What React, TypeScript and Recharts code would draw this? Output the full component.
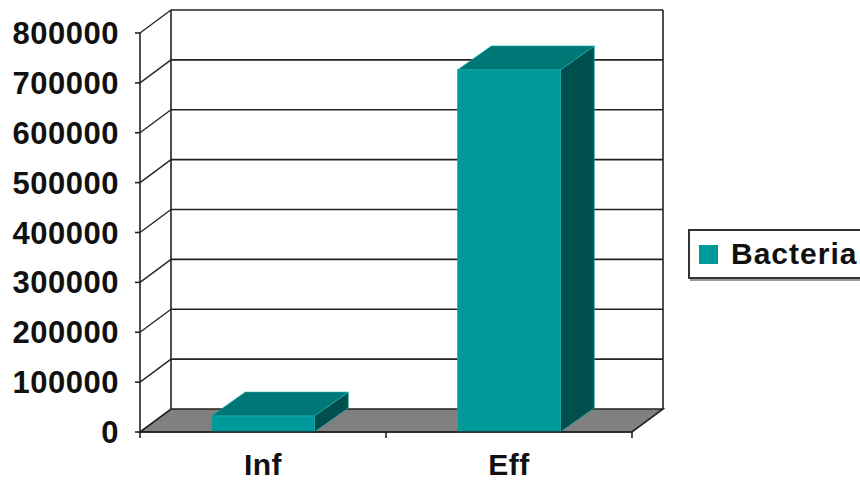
import { BarChart, Bar, XAxis, YAxis, CartesianGrid } from "recharts"

const categories = ["Inf", "Eff"]
const bacteria = [32000, 726000]
const yTicks = [0, 100000, 200000, 300000, 400000, 500000, 600000, 700000, 800000]
const seriesName = "Bacteria"

const data = categories.map((name, i) => ({ name, [seriesName]: bacteria[i] }))

const FONT = "'Liberation Sans', Arial, sans-serif"
const FRONT = "#009999"
const TOP = "#007777"
const SIDE = "#004f4f"
const FLOOR = "#808080"
const LINE = "#222"

// depth offsets for the back wall and for the bars
const WALL_DX = 31
const WALL_DY = -23
const BAR_DX = 34
const BAR_DY = -24

const yLabelStyle = { fontFamily: FONT, fontWeight: "bold", fontSize: 31, letterSpacing: 0.5, fill: "#111" }
const xLabelStyle = { fontFamily: FONT, fontWeight: "bold", fontSize: 30, letterSpacing: 0.5, fill: "#111" }

// each horizontal grid line is drawn on the back wall, with a diagonal
// on the side wall; the zero line also draws the floor and wall edges
const wallLine = (props: any) => {
  const { x1, x2, y1, y, height, index } = props
  const bottom = y + height
  const isFloor = Math.abs(y1 - bottom) < 0.5
  if (isFloor) {
    const step = (x2 - x1) / categories.length
    const ticks = Array.from({ length: categories.length + 1 }, (_, i) => x1 + step * i)
    return (
      <g key={`wall-${index}`}>
        <line x1={x1 + WALL_DX} y1={y + WALL_DY} x2={x1 + WALL_DX} y2={bottom + WALL_DY} stroke={LINE} strokeWidth={1.6} />
        <line x1={x2 + WALL_DX} y1={y + WALL_DY} x2={x2 + WALL_DX} y2={bottom + WALL_DY} stroke={LINE} strokeWidth={1.6} />
        <polygon
          points={`${x1},${bottom} ${x1 + WALL_DX},${bottom + WALL_DY} ${x2 + WALL_DX},${bottom + WALL_DY} ${x2},${bottom}`}
          fill={FLOOR}
          stroke={LINE}
          strokeWidth={1.6}
        />
        {ticks.map((tx) => (
          <line key={tx} x1={tx} y1={bottom} x2={tx} y2={bottom + 6} stroke={LINE} strokeWidth={1.6} />
        ))}
      </g>
    )
  }
  return (
    <g key={`wall-${index}`}>
      <line x1={x1} y1={y1} x2={x1 + WALL_DX} y2={y1 + WALL_DY} stroke={LINE} strokeWidth={1.3} />
      <line x1={x1 + WALL_DX} y1={y1 + WALL_DY} x2={x2 + WALL_DX} y2={y1 + WALL_DY} stroke={LINE} strokeWidth={1.6} />
    </g>
  )
}

const Bar3D = (props: any) => {
  const { x, y, width, height } = props
  const top = `${x},${y} ${x + BAR_DX},${y + BAR_DY} ${x + width + BAR_DX},${y + BAR_DY} ${x + width},${y}`
  const side = `${x + width},${y} ${x + width + BAR_DX},${y + BAR_DY} ${x + width + BAR_DX},${y + height + BAR_DY} ${x + width},${y + height}`
  return (
    <g>
      <polygon points={side} fill={SIDE} stroke="#1fb3b3" strokeWidth={0.6} />
      <polygon points={top} fill={TOP} stroke="#1fb3b3" strokeWidth={0.6} />
      <rect x={x} y={y} width={width} height={height} fill={FRONT} stroke="#1fb3b3" strokeWidth={0.6} />
    </g>
  )
}

const LegendBox = () => (
  <div
    style={{
      position: "absolute",
      left: 688,
      top: 229,
      width: 190,
      height: 46,
      border: "2px solid #333",
      boxShadow: "2px 2px 0 #999",
      background: "#fff",
      display: "flex",
      alignItems: "center",
      fontFamily: FONT,
      fontWeight: "bold",
      fontSize: 30,
      letterSpacing: 1,
      color: "#111",
    }}
  >
    <span style={{ width: 19, height: 19, background: FRONT, marginLeft: 9, marginRight: 13 }} />
    {seriesName}
  </div>
)

export default function App() {
  return (
    <div style={{ position: "absolute", left: 0, top: 0, width: 860, height: 482, background: "#fff", overflow: "hidden" }}>
      <BarChart
        width={860}
        height={482}
        data={data}
        margin={{ top: 33, right: 228, bottom: 20, left: 0 }}
        barCategoryGap="29%"
      >
        <CartesianGrid horizontal={wallLine} vertical={false} />
        <XAxis
          dataKey="name"
          height={30}
          axisLine={{ stroke: LINE, strokeWidth: 1.6 }}
          tickLine={false}
          tickMargin={16}
          tick={xLabelStyle}
        />
        <YAxis
          width={140}
          domain={[0, 800000]}
          ticks={yTicks}
          interval={0}
          axisLine={{ stroke: LINE, strokeWidth: 1.6 }}
          tickLine={{ stroke: LINE, strokeWidth: 1.6 }}
          tickSize={5}
          tickMargin={16}
          tick={yLabelStyle}
        />
        <Bar dataKey={seriesName} shape={<Bar3D />} isAnimationActive={false} />
      </BarChart>
      <LegendBox />
    </div>
  )
}
